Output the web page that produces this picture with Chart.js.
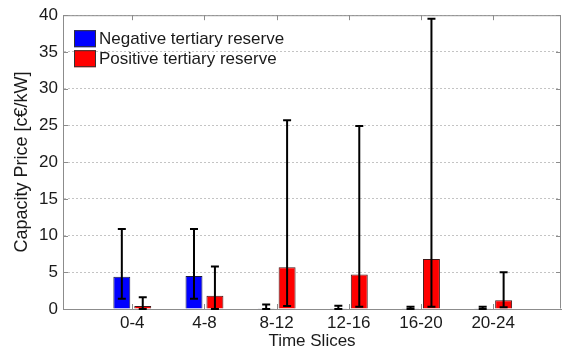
<!DOCTYPE html>
<html>
<head>
<meta charset="utf-8">
<script src="https://cdn.jsdelivr.net/npm/chart.js@4/dist/chart.umd.min.js"></script>
<style>
  html, body { margin: 0; padding: 0; background: #fff; }
  #wrap { width: 562px; height: 350px; }
</style>
</head>
<body>
<div id="wrap"><canvas id="c" width="562" height="350"></canvas></div>
<script>
const categories = ['0-4', '4-8', '8-12', '12-16', '16-20', '20-24'];
const seriesNames = ['Negative tertiary reserve', 'Positive tertiary reserve'];
const negValues = [4.4, 4.5, 0.1, 0.1, 0.1, 0.1];
const negLow = [1.4, 1.4, 0, 0, 0, 0];
const negHigh = [10.9, 10.9, 0.6, 0.45, 0.3, 0.3];
const posValues = [0.4, 1.8, 5.7, 4.7, 6.8, 1.2];
const posLow = [0, 0, 0.4, 0.3, 0.3, 0.25];
const posHigh = [1.6, 5.8, 25.7, 24.9, 39.5, 5.0];
const yTicks = [0, 5, 10, 15, 20, 25, 30, 35, 40];

const FONT = 'Liberation Sans, Arial, Helvetica, sans-serif';
const errorLows = [negLow, posLow];
const errorHighs = [negHigh, posHigh];

const toPoints = vals => vals.map((v, i) => ({ x: i + 1, y: v }));

const errorBarPlugin = {
  id: 'errorBars',
  afterDatasetsDraw(chart) {
    const ctx = chart.ctx;
    const y = chart.scales.y;
    ctx.save();
    ctx.strokeStyle = '#000';
    ctx.lineWidth = 2;
    chart.data.datasets.forEach((ds, di) => {
      const meta = chart.getDatasetMeta(di);
      meta.data.forEach((el, j) => {
        const x = el.x;
        const y1 = y.getPixelForValue(errorLows[di][j]);
        const y2 = y.getPixelForValue(errorHighs[di][j]);
        ctx.beginPath();
        ctx.moveTo(x, y1); ctx.lineTo(x, y2);
        ctx.moveTo(x - 4, y1); ctx.lineTo(x + 4, y1);
        ctx.moveTo(x - 4, y2); ctx.lineTo(x + 4, y2);
        ctx.stroke();
      });
    });
    ctx.restore();
  }
};

const frameLegendPlugin = {
  id: 'frameLegend',
  afterDraw(chart) {
    const ctx = chart.ctx;
    const a = chart.chartArea;
    const xs = chart.scales.x, ys = chart.scales.y;
    ctx.save();
    ctx.strokeStyle = '#8c8c8c';
    ctx.lineWidth = 1;
    ctx.beginPath();
    ctx.moveTo(a.left + 0.5, a.top + 0.5);
    ctx.lineTo(a.right - 0.5, a.top + 0.5);
    ctx.lineTo(a.right - 0.5, a.bottom - 0.5);
    ctx.stroke();
    // inward ticks
    ctx.beginPath();
    ys.ticks.forEach(t => {
      const py = Math.round(ys.getPixelForValue(t.value)) + 0.5;
      ctx.moveTo(a.left, py); ctx.lineTo(a.left + 5, py);
      ctx.moveTo(a.right, py); ctx.lineTo(a.right - 5, py);
    });
    xs.ticks.forEach(t => {
      const px = Math.round(xs.getPixelForValue(t.value)) + 0.5;
      ctx.moveTo(px, a.top); ctx.lineTo(px, a.top + 5);
      ctx.moveTo(px, a.bottom); ctx.lineTo(px, a.bottom - 5);
    });
    ctx.stroke();
    // legend
    const colors = chart.data.datasets.map(d => d.backgroundColor);
    const boxX = a.left + 11, boxW = 22, boxH = 17;
    const rows = [a.top + 15, a.top + 35];
    ctx.font = '17px ' + FONT;
    ctx.textBaseline = 'middle';
    ctx.textAlign = 'left';
    chart.data.datasets.forEach((d, i) => {
      ctx.fillStyle = colors[i];
      ctx.fillRect(boxX, rows[i], boxW, boxH);
      ctx.strokeStyle = '#333';
      ctx.strokeRect(boxX + 0.5, rows[i] + 0.5, boxW - 1, boxH - 1);
      ctx.fillStyle = '#1a1a1a';
      ctx.fillText(d.label, boxX + boxW + 3, rows[i] + boxH / 2 + 1);
    });
    ctx.restore();
  }
};

new Chart(document.getElementById('c'), {
  type: 'bar',
  data: {
    datasets: [
      { label: seriesNames[0], data: toPoints(negValues), backgroundColor: '#0000ff', borderColor: '#1a1a40', borderWidth: 1 },
      { label: seriesNames[1], data: toPoints(posValues), backgroundColor: '#ff0000', borderColor: '#401a1a', borderWidth: 1 }
    ]
  },
  options: {
    responsive: false,
    animation: false,
    categoryPercentage: 0.58,
    barPercentage: 0.81,
    layout: { padding: { top: 15, right: 1, left: 0, bottom: 0 } },
    plugins: { legend: { display: false }, tooltip: { enabled: false } },
    scales: {
      x: {
        type: 'linear',
        offset: false,
        min: 0.04,
        max: 6.94,
        afterBuildTicks(axis) { axis.ticks = categories.map((c, i) => ({ value: i + 1 })); },
        afterFit(axis) { axis.height = 41; },
        grid: { display: false, drawTicks: false, offset: false },
        border: { display: true, color: '#8c8c8c', width: 1 },
        ticks: {
          autoSkip: false, maxRotation: 0, padding: 4, color: '#1a1a1a',
          font: { family: FONT, size: 17 },
          callback: v => categories[Math.round(v) - 1] ?? ''
        },
        title: { display: true, text: 'Time Slices', color: '#1a1a1a', font: { family: FONT, size: 17 }, padding: { top: 0, bottom: -1.5 } }
      },
      y: {
        min: 0,
        max: 40,
        afterBuildTicks(axis) { axis.ticks = yTicks.map(v => ({ value: v })); },
        afterFit(axis) { axis.width = 63; },
        grid: { color: '#c4c4c4', lineWidth: 1, drawTicks: false },
        border: { display: true, color: '#8c8c8c', width: 1, dash: [2, 2] },
        ticks: { padding: 5, color: '#1a1a1a', font: { family: FONT, size: 17 } },
        title: { display: true, text: 'Capacity Price [c€/kW]', color: '#1a1a1a', font: { family: FONT, size: 18 }, padding: { top: 11, bottom: 0 } }
      }
    }
  },
  plugins: [errorBarPlugin, frameLegendPlugin]
});
</script>
</body>
</html>
